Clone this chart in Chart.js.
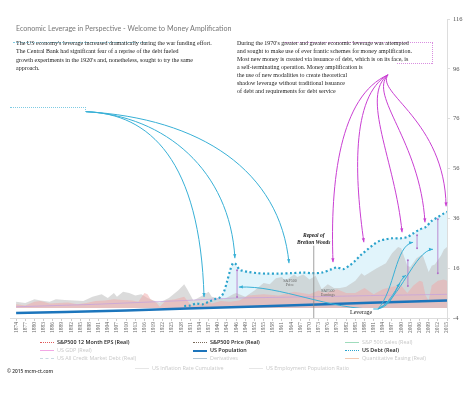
<!DOCTYPE html>
<html>
<head>
<meta charset="utf-8">
<script src="https://cdn.jsdelivr.net/npm/chart.js@4.4.0/dist/chart.umd.min.js"></script>
<style>
  body { margin:0; background:#fff; width:474px; height:398px; overflow:hidden; position:relative; }
  #wrap { position:absolute; left:0; top:0; width:474px; height:340px; }
  .title { position:absolute; left:16px; top:25px; font-family:Lato, sans-serif; font-size:7.1px; line-height:8px; color:#777; white-space:nowrap; }
  .note { position:absolute; font-family:'Liberation Serif', serif; font-size:6px; color:#222; white-space:nowrap; }
  .frame { position:absolute; border:0 dotted; }
  .lg { position:absolute; font-family:'Open Sans', sans-serif; font-size:5.4px; line-height:7px; white-space:nowrap; }
  .lg i { position:absolute; left:0; top:3px; width:14px; border-top:1.5px solid; }
  .lg span { position:absolute; left:17px; top:0; }
  .copy { position:absolute; left:7px; top:368px; font-family:'Open Sans', sans-serif; font-size:4.8px; color:#333; font-weight:600; }
</style>
</head>
<body>
<div id="wrap"><canvas id="chart"></canvas></div>

<div class="title">Economic Leverage in Perspective - Welcome to Money Amplification</div>

<div class="frame" style="left:13px;top:42px;width:134px;border-top-width:1px;border-color:#7fcbe3;"></div>
<div class="frame" style="left:10px;top:107px;width:75px;height:4px;border-top-width:1px;border-right-width:1px;border-color:#7fcbe3;"></div>
<div class="note" style="left:16px;top:39px;line-height:8.3px;">The US economy's leverage increased dramatically during the war funding effort.<br>The Central Bank had significant fear of a reprise of the debt fueled<br>growth experiments in the 1920's and, nonetheless, sought to try the same<br>approach.</div>

<div class="frame" style="left:285px;top:42px;width:147px;height:21px;border-top-width:1px;border-right-width:1px;border-color:#d98ee0;"></div>
<div class="frame" style="left:397px;top:63px;width:35px;border-top-width:1px;border-color:#d98ee0;"></div>
<div class="note" style="left:237px;top:39px;line-height:8px;">During the 1970's greater and greater economic leverage was attempted<br>and sought to make use of ever frantic schemes for money amplification.<br>Most new money is created via issuance of debt, which is on its face, is<br>a self-terminating operation. Money amplification is<br>the use of new modalities to create theoretical<br>shadow leverage without traditional issuance<br>of debt and requirements for debt service</div>

<div id="legend"></div>
<div class="copy">© 2015 mcm-ct.com</div>

<script>
// ---- data (values on the right-hand index scale) ----
const tickYears = [];
for (let y = 1874; y <= 2015; y += 3) tickYears.push(y);
const yTicks = [-4, 16, 36, 56, 76, 96, 116];

// S&P500 Price (Real) - grey area
const priceYears = [1874, 1877, 1880, 1882, 1885, 1887, 1890, 1893, 1896, 1899, 1902, 1904, 1906, 1907, 1909, 1911, 1913, 1915, 1917, 1920, 1921, 1924, 1927, 1929, 1930, 1932, 1935, 1937, 1938, 1942, 1945, 1946, 1949, 1952, 1955, 1957, 1959, 1961, 1962, 1965, 1966, 1968, 1970, 1972, 1974, 1976, 1978, 1980, 1982, 1985, 1987, 1988, 1990, 1992, 1995, 1997, 1999, 2000, 2002, 2003, 2005, 2007, 2008, 2009, 2010, 2011, 2013, 2014, 2015];
const priceValues = [2.5, 2.0, 3.5, 3.0, 2.5, 3.5, 3.2, 3.0, 2.8, 4.5, 5.5, 4.0, 6.0, 4.5, 6.5, 6.0, 5.0, 5.5, 4.0, 2.5, 2.2, 4.0, 7.0, 9.5, 7.5, 3.0, 5.0, 6.5, 4.5, 3.5, 5.5, 6.0, 4.5, 7.0, 10.0, 9.5, 12.0, 12.5, 11.0, 13.5, 12.5, 13.5, 11.5, 13.0, 7.5, 9.5, 8.0, 8.0, 8.5, 11.0, 14.0, 13.0, 14.5, 16.0, 18.0, 22.0, 24.5, 24.0, 17.0, 16.5, 20.0, 21.5, 18.0, 14.5, 17.0, 17.5, 21.0, 23.5, 24.5];

// S&P500 12 Month EPS (Real) - pink area
const epsYears = [1874, 1877, 1880, 1882, 1885, 1888, 1891, 1894, 1897, 1900, 1903, 1906, 1909, 1912, 1914, 1916, 1917, 1918, 1920, 1921, 1923, 1926, 1929, 1931, 1932, 1934, 1937, 1938, 1941, 1944, 1947, 1950, 1955, 1960, 1965, 1970, 1973, 1975, 1979, 1982, 1985, 1988, 1991, 1994, 1997, 2000, 2002, 2004, 2006, 2007, 2008, 2009, 2010, 2012, 2014, 2015];
const epsValues = [1.5, 1.0, 2.5, 2.8, 1.8, 2.0, 2.2, 1.5, 2.0, 2.8, 3.0, 3.5, 3.2, 3.0, 2.5, 6.0, 5.5, 3.5, 2.0, 0.5, 3.0, 3.5, 4.5, 1.5, 0.8, 1.5, 2.5, 1.8, 2.8, 2.5, 3.0, 5.0, 5.5, 5.0, 6.5, 5.5, 7.0, 6.0, 7.5, 6.0, 6.0, 8.0, 5.5, 7.5, 8.5, 9.0, 6.0, 9.0, 11.0, 10.5, 5.0, 3.0, 9.0, 11.0, 11.5, 11.0];

// US Debt (Real) - dotted cyan
const debtYears = [1929, 1931, 1933, 1935, 1937, 1939, 1941, 1942, 1943, 1944, 1945, 1946, 1947, 1948, 1950, 1953, 1956, 1960, 1964, 1968, 1971, 1974, 1977, 1979, 1981, 1983, 1985, 1987, 1989, 1991, 1993, 1995, 1997, 2000, 2002, 2004, 2006, 2008, 2010, 2012, 2014, 2015];
const debtValues = [0.8, 1.0, 1.8, 1.5, 2.5, 3.5, 4.5, 6.5, 10.5, 15.0, 18.0, 17.5, 15.5, 15.0, 14.5, 14.0, 13.8, 13.8, 14.0, 14.2, 14.0, 14.2, 15.5, 16.3, 15.6, 17.0, 19.0, 21.5, 23.5, 25.5, 27.0, 27.6, 28.0, 28.0, 28.5, 30.0, 31.5, 32.5, 35.0, 36.5, 38.0, 38.6];

// US Population - solid blue
const popYears = [1874, 1890, 1910, 1930, 1950, 1970, 1990, 2015];
const popValues = [-2.0, -1.6, -1.0, -0.2, 0.5, 1.3, 2.1, 3.0];

// US GDP (Real) - thin lavender
const gdpYears = [1874, 1900, 1929, 1945, 1970, 1990, 2015];
const gdpValues = [0.5, 1.5, 3.0, 4.0, 4.5, 5.0, 5.5];

// leverage gap markers: [year, top, bottom]
const gapMarks = [[1946.3, 15.2, 4.4], [2002.2, 19.2, 8.8], [2005.2, 29.2, 24], [2012, 35.6, 14]];

// annotation arrows, in [year, value]: start, control1, control2, end
const cyanFromNote = [
  [[1896.9, 78.8], [1917.8, 78], [1934.2, 59.2], [1935.5, 4.4]],
  [[1896.9, 78.8], [1922.7, 77.2], [1944.0, 55.2], [1945.6, 20]],
  [[1896.9, 78.8], [1934.2, 76.2], [1960.4, 55.2], [1963.3, 18]]
];
const magentaArrows = [
  [[1995.7, 93.6], [1980.0, 85.2], [1976.7, 51.2], [1977.7, 18.4]],
  [[1995.7, 93.6], [1983.3, 85.2], [1984.9, 51.2], [1987.8, 26.4]],
  [[1995.7, 93.6], [1986.5, 85.2], [1998.0, 59.2], [2000.3, 30.4]],
  [[1995.7, 93.6], [1989.2, 85.2], [2006.2, 67.2], [2007.8, 34.4]],
  [[1995.7, 93.6], [1991.4, 86.4], [2014.3, 75.2], [2014.7, 40.8]]
];
const leverageArrows = [
  [[1992.4, -0.4], [1976.7, -0.8], [1960.4, 9.2], [1946.9, 8.4]],
  [[1992.4, -0.4], [1997.0, 0.8], [1998.0, 7.2], [1999.6, 10]],
  [[1992.4, -0.4], [1998.0, 3.2], [1999.0, 11.2], [2001.6, 13.2]],
  [[1992.4, -0.4], [1998.0, 7.2], [1998.0, 25.2], [2003.9, 26.4]],
  [[1992.4, -0.4], [1999.6, 3.2], [2004.5, 23.2], [2010.4, 23.6]]
];

const brettonWoods = 1971.4;

const legendItems = [
  { label: 'S&P500 12 Month EPS (Real)', color: '#e05a5a', style: 'dotted', on: true },
  { label: 'S&P500 Price (Real)', color: '#7a6a5a', style: 'dotted', on: true },
  { label: 'S&P 500 Sales (Real)', color: '#9fdcbc', style: 'solid', on: false },
  { label: 'US GDP (Real)', color: '#f2a8e6', style: 'solid', on: false },
  { label: 'US Population', color: '#1c75bc', style: 'solid', on: true },
  { label: 'US Debt (Real)', color: '#2ba3cc', style: 'dotted', on: true },
  { label: 'US All Credit Market Debt (Real)', color: '#c9d9e2', style: 'dashed', on: false },
  { label: 'Derivatives', color: '#b5c8d6', style: 'solid', on: false },
  { label: 'Quantitative Easing (Real)', color: '#f3c9b3', style: 'solid', on: false },
  { label: 'US Inflation Rate Cumulative', color: '#e6e6e6', style: 'solid', on: false },
  { label: 'US Employment Population Ratio', color: '#e6e6e6', style: 'solid', on: false }
];

// ---- legend ----
const colX = [40, 193, 345], rowY = [339, 347, 355];
const extraX = [135, 249];
let html = '';
legendItems.forEach((it, i) => {
  const x = i < 9 ? colX[i % 3] : extraX[i - 9];
  const y = i < 9 ? rowY[Math.floor(i / 3)] : 365;
  const txt = it.on ? 'color:#222;font-weight:600;' : 'color:#c8c8c8;';
  const w = it.on && it.style === 'solid' ? 2 : 1.5;
  html += `<div class="lg" style="left:${x}px;top:${y}px;${txt}"><i style="border-top:${w}px ${it.style} ${it.color}"></i><span>${it.label}</span></div>`;
});
document.getElementById('legend').innerHTML = html;

// ---- chart ----
const pts = (xs, ys) => xs.map((x, i) => ({ x, y: ys[i] }));

const notesPlugin = {
  id: 'notes',
  afterDatasetsDraw(chart) {
    const { ctx, scales: { x, y } } = chart;
    const P = p => [x.getPixelForValue(p[0]), y.getPixelForValue(p[1])];
    ctx.save();

    // Bretton Woods line
    ctx.strokeStyle = '#8a8a8a';
    ctx.lineWidth = 0.8;
    ctx.beginPath();
    ctx.moveTo(x.getPixelForValue(brettonWoods), y.getPixelForValue(25));
    ctx.lineTo(x.getPixelForValue(brettonWoods), y.getPixelForValue(-4));
    ctx.stroke();
    ctx.fillStyle = '#222';
    ctx.font = 'italic bold 5.5px "Liberation Serif"';
    ctx.textAlign = 'center';
    ctx.fillText('Repeal of', x.getPixelForValue(brettonWoods), y.getPixelForValue(28.4));
    ctx.fillText('Bretton Woods', x.getPixelForValue(brettonWoods), y.getPixelForValue(25.8));

    // small series labels
    ctx.fillStyle = '#666';
    ctx.font = '4px "Liberation Serif"';
    ctx.fillText('S&P500', x.getPixelForValue(1963.6), y.getPixelForValue(10.6));
    ctx.fillText('Price', x.getPixelForValue(1963.6), y.getPixelForValue(8.8));
    ctx.fillText('S&P500', x.getPixelForValue(1976), y.getPixelForValue(6.6));
    ctx.fillText('Earnings', x.getPixelForValue(1976), y.getPixelForValue(4.8));

    // gap markers
    ctx.strokeStyle = '#b070c8';
    ctx.fillStyle = '#b070c8';
    ctx.lineWidth = 0.8;
    gapMarks.forEach(g => {
      const px = x.getPixelForValue(g[0]);
      const t = y.getPixelForValue(g[1]), b = y.getPixelForValue(g[2]);
      ctx.beginPath(); ctx.moveTo(px, t); ctx.lineTo(px, b); ctx.stroke();
      [t, b].forEach(v => { ctx.beginPath(); ctx.arc(px, v, 1, 0, Math.PI * 2); ctx.fill(); });
    });

    const arrow = (a, color) => {
      const [s, c1, c2, e] = a.map(P);
      ctx.strokeStyle = color; ctx.fillStyle = color; ctx.lineWidth = 1;
      ctx.beginPath(); ctx.moveTo(...s); ctx.bezierCurveTo(...c1, ...c2, ...e); ctx.stroke();
      const ang = Math.atan2(e[1] - c2[1], e[0] - c2[0]);
      ctx.beginPath();
      ctx.moveTo(e[0], e[1]);
      ctx.lineTo(e[0] - 4 * Math.cos(ang) + 1.6 * Math.sin(ang), e[1] - 4 * Math.sin(ang) - 1.6 * Math.cos(ang));
      ctx.lineTo(e[0] - 4 * Math.cos(ang) - 1.6 * Math.sin(ang), e[1] - 4 * Math.sin(ang) + 1.6 * Math.cos(ang));
      ctx.closePath(); ctx.fill();
    };
    cyanFromNote.forEach(a => arrow(a, '#38b0d6'));
    leverageArrows.forEach(a => arrow(a, '#38b0d6'));
    magentaArrows.forEach(a => arrow(a, '#c93fd2'));

    // Leverage label
    const lx = x.getPixelForValue(1986.9), ly = y.getPixelForValue(-1.6);
    ctx.font = '6px "Liberation Serif"';
    const w = ctx.measureText('Leverage').width;
    ctx.fillStyle = '#fff';
    ctx.fillRect(lx - w / 2 - 1, ly - 4, w + 2, 7);
    ctx.fillStyle = '#222';
    ctx.textAlign = 'center';
    ctx.textBaseline = 'middle';
    ctx.fillText('Leverage', lx, ly);
    ctx.restore();
  }
};

new Chart(document.getElementById('chart'), {
  type: 'line',
  data: {
    datasets: [
      { label: 'US Population', data: pts(popYears, popValues), borderColor: '#1c75bc', borderWidth: 2.4, pointRadius: 0, fill: false, order: 0 },
      { label: 'US Debt (Real)', data: pts(debtYears, debtValues), borderColor: '#2ba3cc', borderWidth: 2.2, borderDash: [2, 2.5], pointRadius: 0, tension: 0.3, fill: false, order: 1 },
      { label: 'US GDP (Real)', data: pts(gdpYears, gdpValues), borderColor: 'rgba(196,160,222,0.9)', borderWidth: 0.8, pointRadius: 0, fill: false, order: 2 },
      { label: 'S&P500 12 Month EPS (Real)', data: pts(epsYears, epsValues), borderWidth: 0, backgroundColor: 'rgba(242,168,168,0.5)', pointRadius: 0, fill: 'origin', order: 3 },
      { label: 'S&P500 Price (Real)', data: pts(priceYears, priceValues), borderWidth: 0, backgroundColor: 'rgba(195,195,195,0.6)', pointRadius: 0, fill: 'origin', order: 4 },
      { label: 'debt area', data: pts(debtYears, debtValues), borderWidth: 0, backgroundColor: 'rgba(205,236,248,0.6)', pointRadius: 0, tension: 0.3, fill: 'origin', order: 5 }
    ]
  },
  options: {
    responsive: true,
    maintainAspectRatio: false,
    animation: false,
    layout: { padding: { left: 10, top: 19, right: 0, bottom: 0 } },
    plugins: { legend: { display: false }, tooltip: { enabled: false } },
    scales: {
      x: {
        type: 'linear', min: 1872, max: 2015,
        afterBuildTicks: s => { s.ticks = tickYears.map(v => ({ value: v })); },
        afterFit: s => { s.height = 22; },
        ticks: { autoSkip: false, minRotation: 90, maxRotation: 90, padding: 1, color: '#666', font: { family: 'Liberation Serif', size: 5.5 }, callback: v => String(v) },
        grid: { drawOnChartArea: false, tickLength: 3, color: '#ccc' },
        border: { color: '#ddd' }
      },
      y: {
        type: 'linear', position: 'right', min: -4, max: 116,
        afterBuildTicks: s => { s.ticks = yTicks.map(v => ({ value: v })); },
        afterFit: s => { s.width = 27; },
        ticks: { padding: 3, color: '#555', font: { family: 'Liberation Serif', size: 6.5 } },
        grid: { drawOnChartArea: false, tickLength: 3, color: '#ddd' },
        border: { color: '#ddd' }
      }
    }
  },
  plugins: [notesPlugin]
});
</script>
</body>
</html>
